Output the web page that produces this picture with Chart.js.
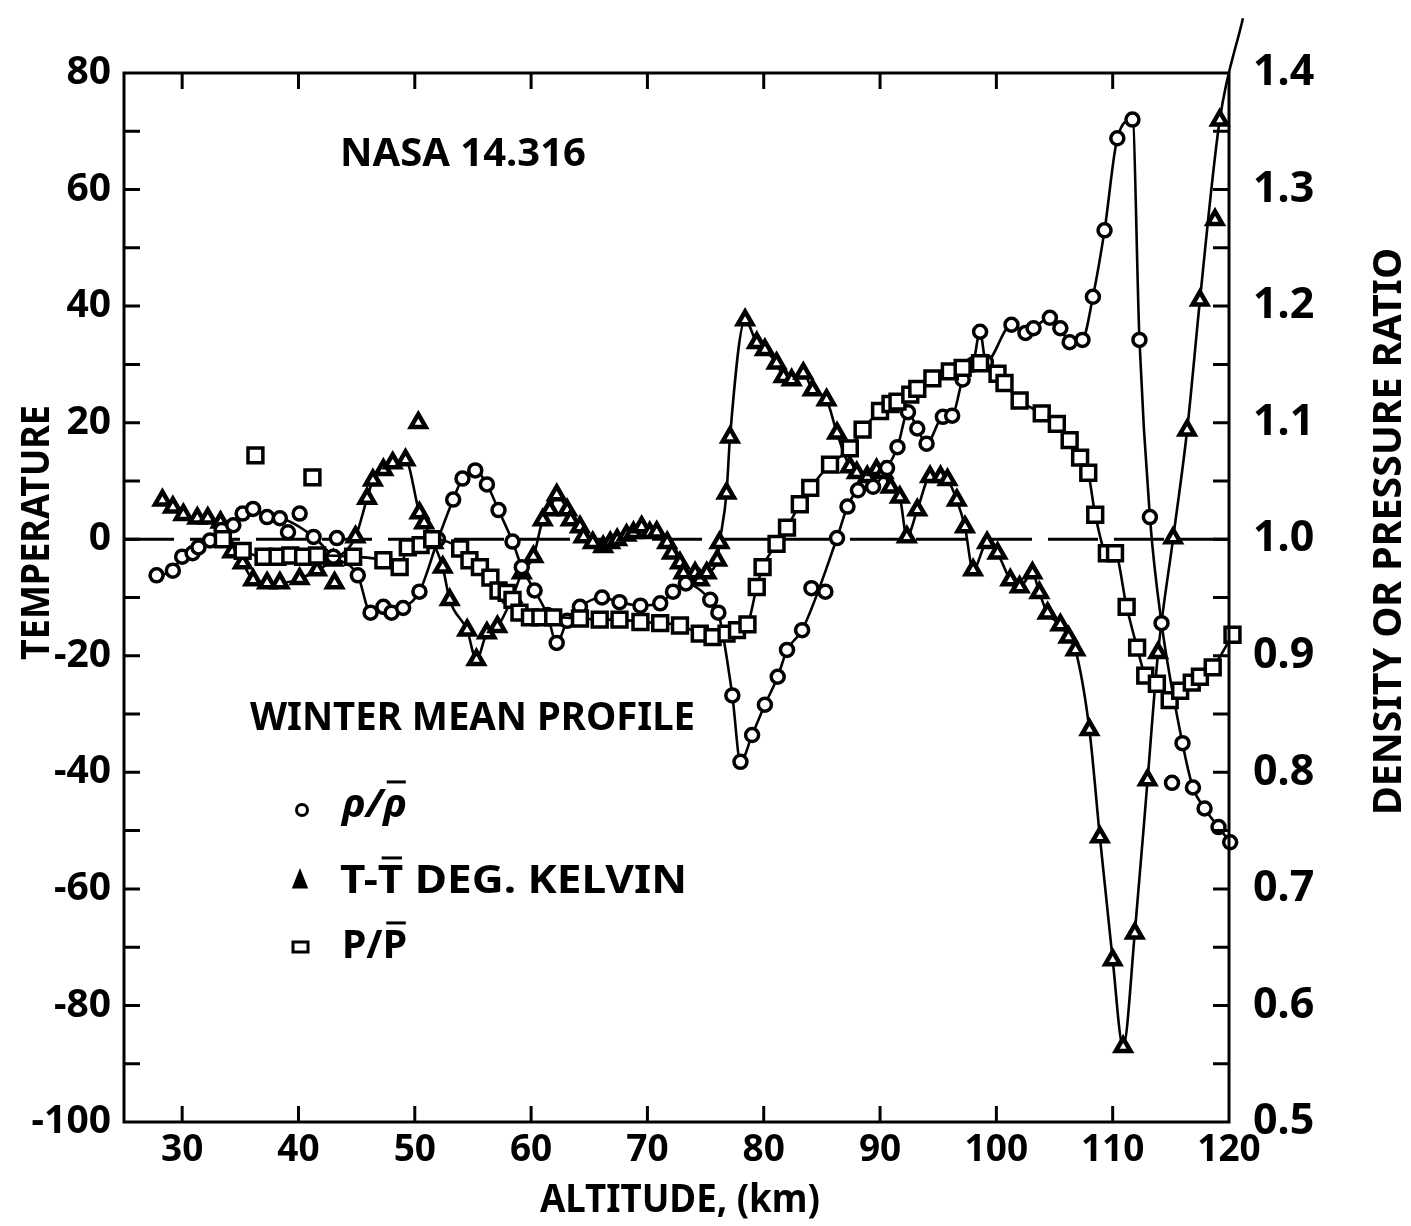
<!DOCTYPE html>
<html>
<head>
<meta charset="utf-8">
<title>Winter mean profile</title>
<script src="https://cdn.jsdelivr.net/npm/chart.js@4.4.1/dist/chart.umd.min.js"></script>
<style>
  html, body { margin: 0; padding: 0; background: #fff; }
  canvas { display: block; }
</style>
</head>
<body>
<canvas id="profile" width="1411" height="1226"></canvas>
<script>
// altitude in km, density ratio rho/rho-bar (right axis)
const DENS_ALT = [27.8, 29.2, 30.0, 30.9, 31.4, 32.4, 33.4, 34.4, 35.2, 36.1, 37.3, 38.4, 41.3, 43.0, 45.1, 46.2, 47.3, 48.0, 49.0, 50.4,
  52.0, 53.3, 54.1, 55.2, 56.2, 57.2, 58.4, 59.2, 60.3, 61.4, 62.2, 63.1, 64.2, 66.1, 67.6, 69.4, 71.1, 72.2, 73.3, 75.4,
  76.1, 77.3, 78.0, 79.0, 80.1, 81.2, 82.0, 83.3, 86.3, 87.2, 88.1, 89.4, 90.6, 91.5, 92.4, 93.2, 94.0, 95.4, 96.2, 97.1,
  98.0, 98.6, 99.1, 101.3, 102.5, 103.2, 104.6, 105.5, 106.3, 107.4, 108.3, 109.3, 110.4, 111.7, 112.3, 113.2, 114.2, 116.0, 116.9, 117.9,
  119.1, 120.1];
const DENS_RATIO = [0.969, 0.973, 0.985, 0.988, 0.993, 0.999, 1.008, 1.012, 1.022, 1.026, 1.019, 1.018, 1.002, 0.985, 0.969, 0.937, 0.942, 0.937, 0.941, 0.955,
  1.000, 1.034, 1.052, 1.059, 1.047, 1.025, 0.998, 0.976, 0.956, 0.935, 0.911, 0.930, 0.942, 0.950, 0.946, 0.943, 0.945, 0.955, 0.962, 0.948,
  0.937, 0.866, 0.809, 0.832, 0.858, 0.882, 0.905, 0.922, 1.001, 1.028, 1.042, 1.045, 1.061, 1.079, 1.109, 1.095, 1.082, 1.105, 1.106, 1.137,
  1.150, 1.178, 1.152, 1.184, 1.177, 1.181, 1.190, 1.181, 1.169, 1.171, 1.208, 1.265, 1.344, 1.360, 1.171, 1.019, 0.928, 0.825, 0.787, 0.769,
  0.753, 0.740];
const DENS_OFF_ALT = [39.1, 40.1, 43.3, 84.1, 85.3, 115.1];
const DENS_OFF_RATIO = [1.006, 1.022, 1.001, 0.958, 0.955, 0.791];

// temperature departure T - T-bar, kelvin (left axis)
const TEMP_ALT = [28.3, 29.2, 30.1, 31.3, 32.2, 33.3, 34.3, 35.2, 36.1, 37.3, 38.4, 40.1, 41.6, 43.0, 44.9, 45.9, 46.4, 47.3, 48.1, 49.2,
  50.4, 50.8, 51.6, 52.4, 53.0, 54.5, 55.3, 56.2, 57.1, 58.4, 59.2, 60.2, 61.0, 61.6, 62.2, 63.1, 63.4, 64.2, 64.5, 65.3,
  66.2, 66.8, 67.4, 68.2, 68.8, 69.5, 70.2, 70.8, 71.7, 72.1, 72.8, 73.1, 74.1, 74.5, 75.1, 76.0, 76.2, 76.8, 77.1, 78.4,
  79.4, 80.1, 81.1, 81.7, 82.4, 83.4, 84.2, 85.4, 86.3, 87.4, 88.0, 88.9, 89.7, 90.3, 90.9, 91.7, 92.3, 93.2, 94.3, 95.2,
  95.8, 96.6, 97.3, 98.0, 99.2, 100.1, 101.2, 102.0, 103.1, 103.7, 104.4, 105.5, 106.2, 106.8, 108.0, 108.9, 110.0, 110.9, 111.9, 113.0,
  113.9, 115.2, 116.4, 117.5, 119.2, 121.2];
const TEMP_DEV = [6.7, 5.5, 4.2, 3.6, 3.6, 2.9, -2.2, -4.1, -7.0, -7.5, -7.5, -6.8, -5.3, -3.6, 0.4, 7.0, 10.1, 11.9, 13.1, 13.6,
  4.5, 2.8, -0.6, -4.8, -10.4, -15.6, -20.7, -16.1, -15.0, -9.9, -5.8, -3.0, 3.3, 5.0, 7.6, 5.0, 3.3, 2.1, 0.4, -0.6,
  -1.3, -0.6, -0.1, 0.7, 1.1, 2.1, 1.1, 1.2, -0.6, -2.4, -4.1, -5.8, -5.8, -7.0, -5.8, -3.6, -0.6, 7.9, 17.5, 37.6,
  33.7, 32.5, 30.2, 27.9, 27.3, 28.5, 25.6, 23.9, 18.2, 12.4, 11.4, 10.7, 11.9, 11.4, 8.9, 7.2, 0.4, 5.0, 10.7, 10.7,
  10.2, 6.7, 2.1, -5.3, -0.6, -2.4, -7.0, -8.2, -5.8, -9.2, -12.7, -14.7, -16.8, -19.0, -32.7, -51.1, -72.2, -87.1, -67.6, -41.3,
  -19.5, 0.2, 18.7, 41.0, 71.9, 89.4];
const TEMP_OFF_ALT = [43.1, 50.3, 118.8];
const TEMP_OFF_DEV = [-7.5, 20.0, 54.8];

// pressure ratio P/P-bar (right axis)
const PRES_ALT = [33.5, 35.2, 37.0, 38.2, 39.3, 40.4, 41.6, 44.7, 47.3, 48.7, 49.4, 50.5, 51.5, 53.9, 54.7, 55.6, 56.5, 57.2, 57.9, 58.4,
  59.0, 59.9, 60.8, 61.9, 64.2, 65.9, 67.6, 69.4, 71.1, 72.8, 74.5, 75.6, 76.8, 77.7, 78.6, 79.4, 79.9, 81.1, 82.0, 83.1,
  84.0, 85.7, 87.4, 88.5, 90.0, 90.9, 91.5, 92.6, 93.2, 94.5, 96.0, 97.1, 98.6, 100.1, 100.7, 102.0, 103.9, 105.2, 106.3, 107.2,
  107.9, 108.5, 109.5, 110.2, 111.2, 112.1, 112.8, 113.8, 114.9, 115.8, 116.8, 117.5, 118.6, 120.3];
const PRES_RATIO = [1.000, 0.990, 0.985, 0.985, 0.986, 0.985, 0.986, 0.985, 0.982, 0.976, 0.993, 0.995, 1.000, 0.992, 0.982, 0.976, 0.967, 0.956, 0.954, 0.948,
  0.937, 0.933, 0.933, 0.933, 0.932, 0.931, 0.931, 0.929, 0.928, 0.926, 0.919, 0.916, 0.919, 0.922, 0.927, 0.959, 0.976, 0.996, 1.010, 1.030,
  1.044, 1.064, 1.078, 1.094, 1.110, 1.116, 1.118, 1.124, 1.129, 1.138, 1.144, 1.147, 1.151, 1.142, 1.134, 1.119, 1.108, 1.099, 1.085, 1.070,
  1.057, 1.021, 0.988, 0.988, 0.942, 0.907, 0.883, 0.876, 0.862, 0.870, 0.877, 0.882, 0.890, 0.918];
const PRES_OFF_ALT = [36.3, 41.2];
const PRES_OFF_RATIO = [1.072, 1.053];

// axes
const X_TICKS = [30, 40, 50, 60, 70, 80, 90, 100, 110, 120];
const X_MARKS = [30, 40, 50, 60, 70, 80, 90, 100, 110];
const Y_TICKS = [80, 60, 40, 20, 0, -20, -40, -60, -80, -100];
const Y_MARKS = [70, 60, 50, 40, 30, 20, 10, 0, -10, -20, -30, -40, -50, -60, -70, -80, -90];
const R_TICKS = [1.4, 1.3, 1.2, 1.1, 1.0, 0.9, 0.8, 0.7, 0.6, 0.5];
const R_MARKS = [1.35, 1.3, 1.25, 1.2, 1.15, 1.1, 1.05, 1.0, 0.95, 0.9, 0.85, 0.8, 0.75, 0.7, 0.65, 0.6, 0.55];

const FONT = 'Noto Sans';
const pts = (xs, ys) => xs.map((x, i) => ({ x: x, y: ys[i] }));

// draws a run of text pieces squeezed to a given width; pieces flagged bar get an overline
function drawText(ctx, pieces, x, y, width, size, angle, italic) {
  ctx.save();
  ctx.font = (italic ? 'italic ' : '') + 'bold ' + size + 'px "' + FONT + '"';
  ctx.fillStyle = '#000';
  ctx.textBaseline = 'alphabetic';
  ctx.textAlign = 'left';
  const ws = pieces.map(p => ctx.measureText(p.t).width);
  const total = ws.reduce((s, w) => s + w, 0);
  ctx.translate(x, y);
  if (angle) ctx.rotate(angle);
  ctx.scale(width / total, 1);
  let cx = 0;
  pieces.forEach((p, i) => {
    ctx.fillText(p.t, cx, 0);
    if (p.bar) ctx.fillRect(cx + ws[i] * 0.15, -size * 0.714 - 8, ws[i] * 0.8, 3);
    cx += ws[i];
  });
  ctx.restore();
}

const paper = {
  id: 'paper',
  beforeDatasetsDraw(chart) {
    const { ctx, chartArea: a, scales } = chart;
    const y0 = scales.y.getPixelForValue(0);
    ctx.save();
    ctx.strokeStyle = '#000';
    ctx.lineWidth = 3;
    ctx.setLineDash([50, 16]);
    ctx.beginPath();
    ctx.moveTo(a.left, y0);
    ctx.lineTo(a.right, y0);
    ctx.stroke();
    ctx.restore();
  },
  afterDatasetsDraw(chart) {
    const { ctx, chartArea: a, scales } = chart;
    const tl = 16;
    ctx.save();
    ctx.strokeStyle = '#000';
    ctx.lineWidth = 3;
    ctx.strokeRect(a.left, a.top, a.right - a.left, a.bottom - a.top);
    ctx.beginPath();
    X_MARKS.forEach(v => {
      const px = scales.x.getPixelForValue(v);
      ctx.moveTo(px, a.bottom); ctx.lineTo(px, a.bottom - tl);
      ctx.moveTo(px, a.top); ctx.lineTo(px, a.top + tl);
    });
    Y_MARKS.forEach(v => {
      const py = scales.y.getPixelForValue(v);
      ctx.moveTo(a.left, py); ctx.lineTo(a.left + tl, py);
    });
    R_MARKS.forEach(v => {
      const py = scales.y2.getPixelForValue(v);
      ctx.moveTo(a.right, py); ctx.lineTo(a.right - tl, py);
    });
    ctx.stroke();

    // titles and notes
    drawText(ctx, [{ t: 'NASA 14.316' }], 340, 166, 246, 40);
    drawText(ctx, [{ t: 'WINTER MEAN PROFILE' }], 250, 730, 445, 40);
    drawText(ctx, [{ t: 'ALTITUDE, (km)' }], 540, 1212, 280, 40);
    drawText(ctx, [{ t: 'TEMPERATURE' }], 49, 660, 255, 40, -Math.PI / 2);
    drawText(ctx, [{ t: 'DENSITY OR PRESSURE RATIO' }], 1401, 815, 567, 40, -Math.PI / 2);

    // key
    drawText(ctx, [{ t: 'ρ/' }, { t: 'ρ', bar: true }], 342, 817, 65, 40, 0, true);
    drawText(ctx, [{ t: 'T-' }, { t: 'T', bar: true }, { t: ' DEG. KELVIN' }], 340, 893, 347, 40);
    drawText(ctx, [{ t: 'P/' }, { t: 'P', bar: true }], 342, 958, 65, 40);
    ctx.lineWidth = 3;
    ctx.fillStyle = '#fff';
    ctx.beginPath(); ctx.arc(302, 810, 5.5, 0, Math.PI * 2); ctx.fill(); ctx.stroke();
    ctx.beginPath(); ctx.rect(293, 942, 15, 10); ctx.fill(); ctx.stroke();
    ctx.fillStyle = '#000';
    ctx.beginPath(); ctx.moveTo(300, 872); ctx.lineTo(306, 887); ctx.lineTo(294, 887); ctx.closePath(); ctx.fill(); ctx.stroke();
    ctx.restore();
  }
};

function series(data, axis, style, radius, border, line) {
  return {
    data: data,
    yAxisID: axis,
    showLine: line,
    borderColor: '#000',
    borderWidth: 2.6,
    pointStyle: style,
    pointRadius: radius,
    pointBorderWidth: border,
    pointBackgroundColor: '#fff',
    pointBorderColor: '#000',
    cubicInterpolationMode: 'monotone',
    clip: false
  };
}

const tickFont = size => ({ family: FONT, weight: 'bold', size: size });

new Chart(document.getElementById('profile'), {
  type: 'scatter',
  data: {
    datasets: [
      series(pts(PRES_ALT, PRES_RATIO), 'y2', 'rect', 10.5, 3.5, true),
      series(pts(PRES_OFF_ALT, PRES_OFF_RATIO), 'y2', 'rect', 10.5, 3.5, false),
      series(pts(DENS_ALT, DENS_RATIO), 'y2', 'circle', 6.5, 3.5, true),
      series(pts(DENS_OFF_ALT, DENS_OFF_RATIO), 'y2', 'circle', 6.5, 3.5, false),
      series(pts(TEMP_ALT, TEMP_DEV), 'y', 'triangle', 8.5, 4.5, true),
      series(pts(TEMP_OFF_ALT, TEMP_OFF_DEV), 'y', 'triangle', 8.5, 4.5, false)
    ]
  },
  options: {
    responsive: false,
    animation: false,
    devicePixelRatio: 1,
    layout: { padding: { top: 73, left: 0, right: 0, bottom: 0 } },
    plugins: { legend: { display: false }, tooltip: { enabled: false } },
    scales: {
      x: {
        type: 'linear', position: 'bottom', min: 25, max: 120,
        grid: { display: false, drawTicks: false }, border: { display: false },
        afterBuildTicks: s => { s.ticks = X_TICKS.map(v => ({ value: v })); },
        afterFit: s => { s.height = 104; },
        ticks: { color: '#000', font: tickFont(37), padding: 6, maxRotation: 0, autoSkip: false }
      },
      y: {
        type: 'linear', position: 'left', min: -100, max: 80,
        grid: { display: false, drawTicks: false }, border: { display: false },
        afterBuildTicks: s => { s.ticks = Y_TICKS.map(v => ({ value: v })); },
        afterFit: s => { s.width = 124; },
        ticks: { color: '#000', font: tickFont(39), padding: 13, autoSkip: false }
      },
      y2: {
        type: 'linear', position: 'right', min: 0.5, max: 1.4,
        grid: { display: false, drawTicks: false }, border: { display: false },
        afterBuildTicks: s => { s.ticks = R_TICKS.map(v => ({ value: v })); },
        afterFit: s => { s.width = 182; },
        ticks: { color: '#000', font: tickFont(43), padding: 24, autoSkip: false, callback: v => v.toFixed(1) }
      }
    }
  },
  plugins: [paper]
});
</script>
</body>
</html>
